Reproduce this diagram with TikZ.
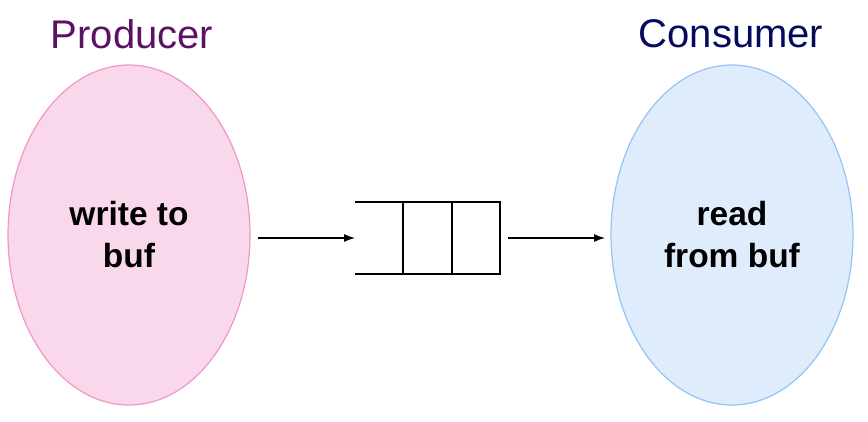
\documentclass[tikz,border=0pt]{standalone}
\usepackage{fontspec}
\setmainfont{Liberation Sans}
\usetikzlibrary{arrows.meta,shapes.geometric}
\definecolor{prodpink}{RGB}{240,150,200}
\definecolor{prodfill}{RGB}{250,216,235}
\definecolor{consblue}{RGB}{150,195,245}
\definecolor{consfill}{RGB}{222,236,252}
\definecolor{prodtext}{RGB}{92,18,98}
\definecolor{constext}{RGB}{5,10,95}
\begin{document}
\begin{tikzpicture}[x=1pt,y=-1pt,
  blob/.style={ellipse, minimum width=242pt, minimum height=340pt, inner sep=0pt, line width=1.2pt},
  title/.style={font=\fontsize{40}{42}\selectfont},
  inner/.style={font=\bfseries\fontsize{33.5}{42}\selectfont, align=center},
  qline/.style={line width=1.1pt},
  flow/.style={line width=1.2pt, -{Latex[length=11pt,width=8pt]}}]
\useasboundingbox (0,0) rectangle (868,422);
\node[blob, draw=prodpink, fill=prodfill] (prod) at (129,235) {};
\node[blob, draw=consblue, fill=consfill] (cons) at (732,235) {};
\node[title, text=prodtext] (ptitle) at (132,34) {Producer};
\node[title, text=constext] (ctitle) at (731,34) {Consumer};
\node[inner] (ptext) at (prod) {write to\\buf};
\node[inner] (ctext) at (cons) {read\\from buf};
% queue
\coordinate (q1) at (355,202);
\coordinate (q2) at (500,202);
\coordinate (q3) at (500,274);
\coordinate (q4) at (355,274);
\draw[qline] (q1) -- (q2) -- (q3) -- (q4);
\coordinate (d1t) at (403,202); \coordinate (d1b) at (403,274);
\coordinate (d2t) at (452,202); \coordinate (d2b) at (452,274);
\draw[qline] (d1t) -- (d1b);
\draw[qline] (d2t) -- (d2b);
\coordinate (a1s) at (258,238); \coordinate (a1e) at (355,238);
\coordinate (a2s) at (508,238); \coordinate (a2e) at (605,238);
\draw[flow] (a1s) -- (a1e);
\draw[flow] (a2s) -- (a2e);
\end{tikzpicture}
\end{document}
